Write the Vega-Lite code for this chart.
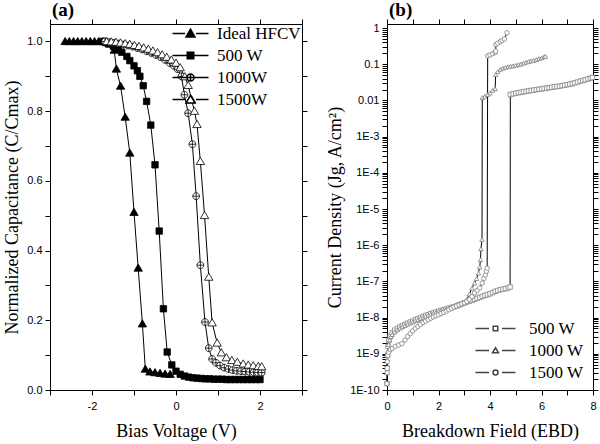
{
  "$schema": "https://vega.github.io/schema/vega-lite/v6.json",
  "background": "white",
  "padding": {"left": 3, "top": 0, "right": 0, "bottom": 0},
  "spacing": 18,
  "resolve": {"scale": {"shape": "independent", "fill": "independent"}, "legend": {"shape": "independent", "fill": "independent"}},
  "config": {
    "view": {"stroke": "black", "strokeWidth": 1},
    "axis": {"labelFont": "Liberation Sans", "labelFontSize": 11, "labelColor": "black", "titleFont": "Liberation Serif", "titleFontSize": 18, "titleFontWeight": "normal", "titleColor": "black", "tickColor": "black", "tickSize": 5, "domain": false, "grid": false, "labelPadding": 3, "titlePadding": 5, "labelFlush": false},
    "axisBottom": {"labelPadding": 5, "titlePadding": 11},
    "legend": {"title": null, "labelFont": "Liberation Serif", "labelFontSize": 17, "labelColor": "black", "symbolSize": 100, "padding": 0, "rowPadding": 4}
  },
  "hconcat": [
    {
      "width": 252,
      "height": 366,
      "title": {"text": "(a)", "anchor": "start", "frame": "group", "font": "Liberation Serif", "fontSize": 19, "fontWeight": "bold", "color": "black", "offset": -1, "dx": 2},
      "data": {"values": [
        {"s": "Ideal HFCV", "x": -2.64, "y": 1.0}, {"s": "Ideal HFCV", "x": -2.54, "y": 1.0}, {"s": "Ideal HFCV", "x": -2.44, "y": 1.0}, {"s": "Ideal HFCV", "x": -2.34, "y": 1.0}, {"s": "Ideal HFCV", "x": -2.24, "y": 1.0}, {"s": "Ideal HFCV", "x": -2.14, "y": 1.0}, {"s": "Ideal HFCV", "x": -2.04, "y": 1.0}, {"s": "Ideal HFCV", "x": -1.94, "y": 1.0}, {"s": "Ideal HFCV", "x": -1.84, "y": 1.0}, {"s": "Ideal HFCV", "x": -1.74, "y": 1.0}, {"s": "Ideal HFCV", "x": -1.64, "y": 0.998}, {"s": "Ideal HFCV", "x": -1.56, "y": 0.993}, {"s": "Ideal HFCV", "x": -1.47, "y": 0.975}, {"s": "Ideal HFCV", "x": -1.42, "y": 0.921}, {"s": "Ideal HFCV", "x": -1.32, "y": 0.872}, {"s": "Ideal HFCV", "x": -1.21, "y": 0.783}, {"s": "Ideal HFCV", "x": -1.1, "y": 0.68}, {"s": "Ideal HFCV", "x": -1.0, "y": 0.51}, {"s": "Ideal HFCV", "x": -0.9, "y": 0.35}, {"s": "Ideal HFCV", "x": -0.8, "y": 0.19}, {"s": "Ideal HFCV", "x": -0.73, "y": 0.06}, {"s": "Ideal HFCV", "x": -0.62, "y": 0.052}, {"s": "Ideal HFCV", "x": -0.5, "y": 0.05}, {"s": "Ideal HFCV", "x": -0.38, "y": 0.048}, {"s": "Ideal HFCV", "x": -0.26, "y": 0.046}, {"s": "Ideal HFCV", "x": -0.14, "y": 0.045},
        {"s": "500 W", "x": -1.75, "y": 1.0}, {"s": "500 W", "x": -1.68, "y": 0.997}, {"s": "500 W", "x": -1.61, "y": 0.993}, {"s": "500 W", "x": -1.49, "y": 0.986}, {"s": "500 W", "x": -1.37, "y": 0.978}, {"s": "500 W", "x": -1.29, "y": 0.969}, {"s": "500 W", "x": -1.17, "y": 0.957}, {"s": "500 W", "x": -1.1, "y": 0.945}, {"s": "500 W", "x": -1.0, "y": 0.93}, {"s": "500 W", "x": -0.92, "y": 0.916}, {"s": "500 W", "x": -0.86, "y": 0.9}, {"s": "500 W", "x": -0.78, "y": 0.873}, {"s": "500 W", "x": -0.7, "y": 0.828}, {"s": "500 W", "x": -0.6, "y": 0.76}, {"s": "500 W", "x": -0.5, "y": 0.646}, {"s": "500 W", "x": -0.4, "y": 0.456}, {"s": "500 W", "x": -0.3, "y": 0.233}, {"s": "500 W", "x": -0.21, "y": 0.109}, {"s": "500 W", "x": -0.1, "y": 0.072}, {"s": "500 W", "x": 0.0, "y": 0.054}, {"s": "500 W", "x": 0.1, "y": 0.045}, {"s": "500 W", "x": 0.2, "y": 0.04}, {"s": "500 W", "x": 0.3, "y": 0.037}, {"s": "500 W", "x": 0.4, "y": 0.035}, {"s": "500 W", "x": 0.5, "y": 0.034}, {"s": "500 W", "x": 0.6, "y": 0.033}, {"s": "500 W", "x": 0.7, "y": 0.032}, {"s": "500 W", "x": 0.8, "y": 0.032}, {"s": "500 W", "x": 0.9, "y": 0.031}, {"s": "500 W", "x": 1.0, "y": 0.031}, {"s": "500 W", "x": 1.1, "y": 0.031}, {"s": "500 W", "x": 1.2, "y": 0.03}, {"s": "500 W", "x": 1.3, "y": 0.03}, {"s": "500 W", "x": 1.4, "y": 0.03}, {"s": "500 W", "x": 1.5, "y": 0.03}, {"s": "500 W", "x": 1.6, "y": 0.03}, {"s": "500 W", "x": 1.7, "y": 0.03}, {"s": "500 W", "x": 1.8, "y": 0.03}, {"s": "500 W", "x": 1.9, "y": 0.03}, {"s": "500 W", "x": 2.0, "y": 0.03},
        {"s": "1000W", "x": -1.69, "y": 1.0}, {"s": "1000W", "x": -1.58, "y": 0.998}, {"s": "1000W", "x": -1.47, "y": 0.996}, {"s": "1000W", "x": -1.36, "y": 0.994}, {"s": "1000W", "x": -1.25, "y": 0.991}, {"s": "1000W", "x": -1.14, "y": 0.988}, {"s": "1000W", "x": -1.03, "y": 0.985}, {"s": "1000W", "x": -0.92, "y": 0.981}, {"s": "1000W", "x": -0.81, "y": 0.977}, {"s": "1000W", "x": -0.7, "y": 0.972}, {"s": "1000W", "x": -0.59, "y": 0.967}, {"s": "1000W", "x": -0.48, "y": 0.961}, {"s": "1000W", "x": -0.37, "y": 0.955}, {"s": "1000W", "x": -0.26, "y": 0.947}, {"s": "1000W", "x": -0.15, "y": 0.938}, {"s": "1000W", "x": -0.05, "y": 0.93}, {"s": "1000W", "x": 0.04, "y": 0.92}, {"s": "1000W", "x": 0.13, "y": 0.9}, {"s": "1000W", "x": 0.2, "y": 0.847}, {"s": "1000W", "x": 0.29, "y": 0.794}, {"s": "1000W", "x": 0.39, "y": 0.705}, {"s": "1000W", "x": 0.48, "y": 0.556}, {"s": "1000W", "x": 0.58, "y": 0.358}, {"s": "1000W", "x": 0.69, "y": 0.195}, {"s": "1000W", "x": 0.78, "y": 0.12}, {"s": "1000W", "x": 0.86, "y": 0.089}, {"s": "1000W", "x": 0.95, "y": 0.078}, {"s": "1000W", "x": 1.05, "y": 0.07}, {"s": "1000W", "x": 1.15, "y": 0.064}, {"s": "1000W", "x": 1.25, "y": 0.06}, {"s": "1000W", "x": 1.35, "y": 0.057}, {"s": "1000W", "x": 1.45, "y": 0.055}, {"s": "1000W", "x": 1.55, "y": 0.054}, {"s": "1000W", "x": 1.65, "y": 0.053}, {"s": "1000W", "x": 1.75, "y": 0.052}, {"s": "1000W", "x": 1.85, "y": 0.051}, {"s": "1000W", "x": 1.95, "y": 0.05}, {"s": "1000W", "x": 2.04, "y": 0.05},
        {"s": "1500W", "x": -1.65, "y": 1.0}, {"s": "1500W", "x": -1.54, "y": 0.999}, {"s": "1500W", "x": -1.43, "y": 0.998}, {"s": "1500W", "x": -1.32, "y": 0.996}, {"s": "1500W", "x": -1.21, "y": 0.994}, {"s": "1500W", "x": -1.1, "y": 0.992}, {"s": "1500W", "x": -0.99, "y": 0.989}, {"s": "1500W", "x": -0.88, "y": 0.986}, {"s": "1500W", "x": -0.77, "y": 0.982}, {"s": "1500W", "x": -0.66, "y": 0.978}, {"s": "1500W", "x": -0.55, "y": 0.973}, {"s": "1500W", "x": -0.44, "y": 0.968}, {"s": "1500W", "x": -0.33, "y": 0.962}, {"s": "1500W", "x": -0.22, "y": 0.955}, {"s": "1500W", "x": -0.11, "y": 0.947}, {"s": "1500W", "x": 0.0, "y": 0.938}, {"s": "1500W", "x": 0.1, "y": 0.925}, {"s": "1500W", "x": 0.21, "y": 0.899}, {"s": "1500W", "x": 0.29, "y": 0.874}, {"s": "1500W", "x": 0.37, "y": 0.833}, {"s": "1500W", "x": 0.44, "y": 0.8}, {"s": "1500W", "x": 0.5, "y": 0.762}, {"s": "1500W", "x": 0.58, "y": 0.656}, {"s": "1500W", "x": 0.68, "y": 0.501}, {"s": "1500W", "x": 0.78, "y": 0.324}, {"s": "1500W", "x": 0.86, "y": 0.193}, {"s": "1500W", "x": 0.98, "y": 0.135}, {"s": "1500W", "x": 1.08, "y": 0.107}, {"s": "1500W", "x": 1.2, "y": 0.093}, {"s": "1500W", "x": 1.33, "y": 0.085}, {"s": "1500W", "x": 1.46, "y": 0.08}, {"s": "1500W", "x": 1.6, "y": 0.075}, {"s": "1500W", "x": 1.72, "y": 0.072}, {"s": "1500W", "x": 1.84, "y": 0.07}, {"s": "1500W", "x": 1.96, "y": 0.068}, {"s": "1500W", "x": 2.04, "y": 0.067}
      ]},
      "layer": [
        {
          "mark": {"type": "line", "color": "black", "strokeWidth": 1},
          "encoding": {
            "x": {"field": "x", "type": "quantitative", "scale": {"domain": [-3, 3], "nice": false}, "axis": {"orient": "bottom", "title": "Bias Voltage (V)", "values": [-3, -2, -1, 0, 1, 2, 3], "labelExpr": "datum.value % 2 === 0 ? (datum.value < 0 ? '-' + abs(datum.value) : '' + datum.value) : ''", "encode": {"ticks": {"y2": {"condition": {"test": "datum.value % 2 === 0", "value": 5}, "value": 3}}}}},
            "y": {"field": "y", "type": "quantitative", "scale": {"domain": [0, 1.05], "nice": false}, "axis": {"orient": "left", "title": "Normalized Capacitance (C/Cmax)", "values": [0, 0.1, 0.2, 0.3, 0.4, 0.5, 0.6, 0.7, 0.8, 0.9, 1.0], "format": ".1f", "labelExpr": "round(datum.value*10) % 2 === 0 ? datum.label : ''", "encode": {"ticks": {"x2": {"condition": {"test": "round(datum.value*10) % 2 === 0", "value": -5}, "value": -3}}}}},
            "detail": {"field": "s"}
          }
        },
        {
          "mark": {"type": "point", "size": 64, "stroke": "black", "strokeWidth": 0.8, "opacity": 1},
          "encoding": {
            "x": {"field": "x", "type": "quantitative", "scale": {"domain": [-3, 3], "nice": false}, "axis": {"orient": "top", "title": null, "labels": false, "values": [-3, -2, -1, 0, 1, 2, 3], "encode": {"ticks": {"y2": {"condition": {"test": "datum.value % 2 === 0", "value": 5}, "value": 3}}}}},
            "y": {"field": "y", "type": "quantitative", "scale": {"domain": [0, 1.05], "nice": false}, "axis": {"orient": "right", "title": null, "labels": false, "values": [0, 0.1, 0.2, 0.3, 0.4, 0.5, 0.6, 0.7, 0.8, 0.9, 1.0], "encode": {"ticks": {"x2": {"condition": {"test": "round(datum.value*10) % 2 === 0", "value": -5}, "value": -3}}}}},
            "shape": {"field": "s", "type": "nominal", "scale": {"domain": ["Ideal HFCV", "500 W", "1000W", "1500W"], "range": ["M0,-1L1.05,0.8L-1.05,0.8Z", "M-0.8,-0.8H0.8V0.8H-0.8Z", "M0.85,0A0.85,0.85,0,1,1,-0.85,0A0.85,0.85,0,1,1,0.85,0ZM-0.85,0H0.85M0,-0.85V0.85", "M0,-1L1.05,0.8L-1.05,0.8Z"]}, "legend": null},
            "fill": {"field": "s", "type": "nominal", "scale": {"domain": ["Ideal HFCV", "500 W", "1000W", "1500W"], "range": ["black", "black", "white", "white"]}, "legend": null}
          }
        },
        {
          "transform": [{"filter": "datum.x > 100"}],
          "mark": {"type": "point", "size": 100, "stroke": "black", "strokeWidth": 1, "opacity": 1},
          "encoding": {
            "x": {"field": "x", "type": "quantitative", "scale": {"domain": [-3, 3], "nice": false}, "axis": null},
            "y": {"field": "y", "type": "quantitative", "scale": {"domain": [0, 1.05], "nice": false}, "axis": null},
            "shape": {"field": "s", "type": "nominal", "scale": {"domain": ["Ideal HFCV", "500 W", "1000W", "1500W"], "range": ["M-3.6,0H-1.1M1.1,0H3.6M0,-0.85L0.9,0.7L-0.9,0.7Z", "M-3.6,0H-0.7M0.7,0H3.6M-0.65,-0.65H0.65V0.65H-0.65Z", "M-3.6,0H-0.7M0.7,0H3.6M0.7,0A0.7,0.7,0,1,1,-0.7,0A0.7,0.7,0,1,1,0.7,0ZM-0.7,0H0.7M0,-0.7V0.7", "M-3.6,0H-1.1M1.1,0H3.6M0,-0.85L0.9,0.7L-0.9,0.7Z"]},
              "legend": {"orient": "top-right", "offset": 1, "labelOffset": 18}},
            "fill": {"field": "s", "type": "nominal", "scale": {"domain": ["Ideal HFCV", "500 W", "1000W", "1500W"], "range": ["black", "black", "white", "white"]}, "legend": null}
          }
        }
      ],
      "resolve": {"axis": {"x": "independent", "y": "independent"}, "scale": {"shape": "independent", "fill": "independent"}, "legend": {"shape": "independent", "fill": "independent"}}
    },
    {
      "width": 206,
      "height": 366,
      "title": {"text": "(b)", "anchor": "start", "frame": "group", "font": "Liberation Serif", "fontSize": 19, "fontWeight": "bold", "color": "black", "offset": -1, "dx": 2},
      "data": {"values": [
        {"s": "500 W", "x": 0, "y": 1.5e-10}, {"s": "500 W", "x": 0.01, "y": 4e-10}, {"s": "500 W", "x": 0.02, "y": 9e-10}, {"s": "500 W", "x": 0.04, "y": 1.6e-9}, {"s": "500 W", "x": 0.07, "y": 2.3e-9}, {"s": "500 W", "x": 0.12, "y": 3e-9}, {"s": "500 W", "x": 0.2, "y": 3.8e-9}, {"s": "500 W", "x": 0.3, "y": 4.5e-9}, {"s": "500 W", "x": 0.4, "y": 5e-9}, {"s": "500 W", "x": 0.5, "y": 5.5e-9}, {"s": "500 W", "x": 0.6, "y": 6e-9}, {"s": "500 W", "x": 0.7, "y": 6.5e-9}, {"s": "500 W", "x": 0.8, "y": 7e-9}, {"s": "500 W", "x": 0.9, "y": 7.5e-9}, {"s": "500 W", "x": 1.0, "y": 8e-9}, {"s": "500 W", "x": 1.1, "y": 8.7e-9}, {"s": "500 W", "x": 1.2, "y": 9.3e-9}, {"s": "500 W", "x": 1.3, "y": 1e-8}, {"s": "500 W", "x": 1.4, "y": 1.07e-8}, {"s": "500 W", "x": 1.5, "y": 1.14e-8}, {"s": "500 W", "x": 1.6, "y": 1.2e-8}, {"s": "500 W", "x": 1.7, "y": 1.28e-8}, {"s": "500 W", "x": 1.8, "y": 1.35e-8}, {"s": "500 W", "x": 1.9, "y": 1.42e-8}, {"s": "500 W", "x": 2.0, "y": 1.5e-8}, {"s": "500 W", "x": 2.1, "y": 1.57e-8}, {"s": "500 W", "x": 2.2, "y": 1.65e-8}, {"s": "500 W", "x": 2.3, "y": 1.73e-8}, {"s": "500 W", "x": 2.4, "y": 1.82e-8}, {"s": "500 W", "x": 2.5, "y": 1.9e-8}, {"s": "500 W", "x": 2.6, "y": 2e-8}, {"s": "500 W", "x": 2.7, "y": 2.1e-8}, {"s": "500 W", "x": 2.8, "y": 2.25e-8}, {"s": "500 W", "x": 2.9, "y": 2.4e-8}, {"s": "500 W", "x": 3.0, "y": 2.55e-8}, {"s": "500 W", "x": 3.1, "y": 2.7e-8}, {"s": "500 W", "x": 3.2, "y": 2.85e-8}, {"s": "500 W", "x": 3.3, "y": 3e-8}, {"s": "500 W", "x": 3.4, "y": 3.2e-8}, {"s": "500 W", "x": 3.5, "y": 3.4e-8}, {"s": "500 W", "x": 3.6, "y": 3.6e-8}, {"s": "500 W", "x": 3.7, "y": 3.85e-8}, {"s": "500 W", "x": 3.8, "y": 4.1e-8}, {"s": "500 W", "x": 3.9, "y": 4.3e-8}, {"s": "500 W", "x": 4.0, "y": 4.55e-8}, {"s": "500 W", "x": 4.1, "y": 4.9e-8}, {"s": "500 W", "x": 4.2, "y": 5.3e-8}, {"s": "500 W", "x": 4.3, "y": 5.6e-8}, {"s": "500 W", "x": 4.4, "y": 5.9e-8}, {"s": "500 W", "x": 4.5, "y": 6.1e-8}, {"s": "500 W", "x": 4.6, "y": 6.3e-8}, {"s": "500 W", "x": 4.7, "y": 6.6e-8}, {"s": "500 W", "x": 4.78, "y": 7e-8},
        {"s": "500 W", "x": 4.79, "y": 0.0145}, {"s": "500 W", "x": 4.9, "y": 0.0152}, {"s": "500 W", "x": 5.0, "y": 0.0158}, {"s": "500 W", "x": 5.1, "y": 0.0163}, {"s": "500 W", "x": 5.2, "y": 0.0168}, {"s": "500 W", "x": 5.3, "y": 0.0173}, {"s": "500 W", "x": 5.4, "y": 0.0178}, {"s": "500 W", "x": 5.5, "y": 0.0183}, {"s": "500 W", "x": 5.6, "y": 0.0188}, {"s": "500 W", "x": 5.7, "y": 0.0193}, {"s": "500 W", "x": 5.8, "y": 0.0198}, {"s": "500 W", "x": 5.9, "y": 0.0203}, {"s": "500 W", "x": 6.0, "y": 0.0208}, {"s": "500 W", "x": 6.1, "y": 0.0213}, {"s": "500 W", "x": 6.2, "y": 0.0218}, {"s": "500 W", "x": 6.3, "y": 0.0224}, {"s": "500 W", "x": 6.4, "y": 0.023}, {"s": "500 W", "x": 6.5, "y": 0.0236}, {"s": "500 W", "x": 6.6, "y": 0.0242}, {"s": "500 W", "x": 6.7, "y": 0.0248}, {"s": "500 W", "x": 6.8, "y": 0.0255}, {"s": "500 W", "x": 6.9, "y": 0.0263}, {"s": "500 W", "x": 7.0, "y": 0.0272}, {"s": "500 W", "x": 7.1, "y": 0.0282}, {"s": "500 W", "x": 7.2, "y": 0.0293}, {"s": "500 W", "x": 7.3, "y": 0.0305}, {"s": "500 W", "x": 7.4, "y": 0.0322}, {"s": "500 W", "x": 7.5, "y": 0.034}, {"s": "500 W", "x": 7.6, "y": 0.0355}, {"s": "500 W", "x": 7.7, "y": 0.037}, {"s": "500 W", "x": 7.8, "y": 0.039}, {"s": "500 W", "x": 7.9, "y": 0.041}, {"s": "500 W", "x": 7.98, "y": 0.043},
        {"s": "1000 W", "x": 0, "y": 3e-10}, {"s": "1000 W", "x": 0.01, "y": 7e-10}, {"s": "1000 W", "x": 0.03, "y": 1.2e-9}, {"s": "1000 W", "x": 0.06, "y": 1.8e-9}, {"s": "1000 W", "x": 0.1, "y": 2.4e-9}, {"s": "1000 W", "x": 0.15, "y": 3e-9}, {"s": "1000 W", "x": 0.2, "y": 3.4e-9}, {"s": "1000 W", "x": 0.3, "y": 4e-9}, {"s": "1000 W", "x": 0.4, "y": 4.6e-9}, {"s": "1000 W", "x": 0.5, "y": 5.1e-9}, {"s": "1000 W", "x": 0.6, "y": 5.6e-9}, {"s": "1000 W", "x": 0.7, "y": 6.1e-9}, {"s": "1000 W", "x": 0.8, "y": 6.6e-9}, {"s": "1000 W", "x": 0.9, "y": 7.1e-9}, {"s": "1000 W", "x": 1.0, "y": 7.6e-9}, {"s": "1000 W", "x": 1.1, "y": 8.2e-9}, {"s": "1000 W", "x": 1.2, "y": 8.8e-9}, {"s": "1000 W", "x": 1.3, "y": 9.5e-9}, {"s": "1000 W", "x": 1.4, "y": 1.02e-8}, {"s": "1000 W", "x": 1.5, "y": 1.09e-8}, {"s": "1000 W", "x": 1.6, "y": 1.16e-8}, {"s": "1000 W", "x": 1.7, "y": 1.23e-8}, {"s": "1000 W", "x": 1.8, "y": 1.3e-8}, {"s": "1000 W", "x": 1.9, "y": 1.38e-8}, {"s": "1000 W", "x": 2.0, "y": 1.45e-8}, {"s": "1000 W", "x": 2.1, "y": 1.53e-8}, {"s": "1000 W", "x": 2.2, "y": 1.62e-8}, {"s": "1000 W", "x": 2.3, "y": 1.7e-8}, {"s": "1000 W", "x": 2.4, "y": 1.8e-8}, {"s": "1000 W", "x": 2.5, "y": 1.9e-8}, {"s": "1000 W", "x": 2.6, "y": 2e-8}, {"s": "1000 W", "x": 2.7, "y": 2.12e-8}, {"s": "1000 W", "x": 2.8, "y": 2.25e-8}, {"s": "1000 W", "x": 2.9, "y": 2.4e-8}, {"s": "1000 W", "x": 3.0, "y": 2.6e-8}, {"s": "1000 W", "x": 3.1, "y": 3.2e-8}, {"s": "1000 W", "x": 3.2, "y": 4.5e-8}, {"s": "1000 W", "x": 3.3, "y": 6.5e-8}, {"s": "1000 W", "x": 3.4, "y": 9e-8}, {"s": "1000 W", "x": 3.48, "y": 1.2e-7}, {"s": "1000 W", "x": 3.55, "y": 1.7e-7}, {"s": "1000 W", "x": 3.6, "y": 2.5e-7}, {"s": "1000 W", "x": 3.63, "y": 4e-7}, {"s": "1000 W", "x": 3.65, "y": 8e-7}, {"s": "1000 W", "x": 3.69, "y": 1.45e-6},
        {"s": "1000 W", "x": 3.7, "y": 0.012}, {"s": "1000 W", "x": 3.8, "y": 0.013}, {"s": "1000 W", "x": 3.9, "y": 0.0145}, {"s": "1000 W", "x": 4.0, "y": 0.016}, {"s": "1000 W", "x": 4.1, "y": 0.019}, {"s": "1000 W", "x": 4.2, "y": 0.021}, {"s": "1000 W", "x": 4.22, "y": 0.052}, {"s": "1000 W", "x": 4.3, "y": 0.062}, {"s": "1000 W", "x": 4.4, "y": 0.072}, {"s": "1000 W", "x": 4.5, "y": 0.078}, {"s": "1000 W", "x": 4.6, "y": 0.082}, {"s": "1000 W", "x": 4.7, "y": 0.085}, {"s": "1000 W", "x": 4.8, "y": 0.088}, {"s": "1000 W", "x": 4.9, "y": 0.09}, {"s": "1000 W", "x": 5.0, "y": 0.093}, {"s": "1000 W", "x": 5.1, "y": 0.097}, {"s": "1000 W", "x": 5.2, "y": 0.101}, {"s": "1000 W", "x": 5.3, "y": 0.107}, {"s": "1000 W", "x": 5.4, "y": 0.113}, {"s": "1000 W", "x": 5.5, "y": 0.119}, {"s": "1000 W", "x": 5.6, "y": 0.124}, {"s": "1000 W", "x": 5.7, "y": 0.128}, {"s": "1000 W", "x": 5.8, "y": 0.134}, {"s": "1000 W", "x": 5.9, "y": 0.142}, {"s": "1000 W", "x": 6.0, "y": 0.15}, {"s": "1000 W", "x": 6.1, "y": 0.16}, {"s": "1000 W", "x": 6.15, "y": 0.165},
        {"s": "1500 W", "x": 0, "y": 1.5e-10}, {"s": "1500 W", "x": 0.005, "y": 3e-10}, {"s": "1500 W", "x": 0.01, "y": 6e-10}, {"s": "1500 W", "x": 0.03, "y": 9e-10}, {"s": "1500 W", "x": 0.07, "y": 1.1e-9}, {"s": "1500 W", "x": 0.13, "y": 1.3e-9}, {"s": "1500 W", "x": 0.2, "y": 1.4e-9}, {"s": "1500 W", "x": 0.32, "y": 1.6e-9}, {"s": "1500 W", "x": 0.45, "y": 1.75e-9}, {"s": "1500 W", "x": 0.58, "y": 1.9e-9}, {"s": "1500 W", "x": 0.7, "y": 2.4e-9}, {"s": "1500 W", "x": 0.8, "y": 3e-9}, {"s": "1500 W", "x": 0.9, "y": 3.6e-9}, {"s": "1500 W", "x": 1.0, "y": 4.3e-9}, {"s": "1500 W", "x": 1.1, "y": 5e-9}, {"s": "1500 W", "x": 1.2, "y": 5.7e-9}, {"s": "1500 W", "x": 1.3, "y": 6.5e-9}, {"s": "1500 W", "x": 1.4, "y": 7.3e-9}, {"s": "1500 W", "x": 1.5, "y": 8e-9}, {"s": "1500 W", "x": 1.6, "y": 8.8e-9}, {"s": "1500 W", "x": 1.7, "y": 9.6e-9}, {"s": "1500 W", "x": 1.8, "y": 1.04e-8}, {"s": "1500 W", "x": 1.9, "y": 1.12e-8}, {"s": "1500 W", "x": 2.0, "y": 1.2e-8}, {"s": "1500 W", "x": 2.1, "y": 1.3e-8}, {"s": "1500 W", "x": 2.2, "y": 1.4e-8}, {"s": "1500 W", "x": 2.3, "y": 1.5e-8}, {"s": "1500 W", "x": 2.4, "y": 1.65e-8}, {"s": "1500 W", "x": 2.5, "y": 1.8e-8}, {"s": "1500 W", "x": 2.6, "y": 1.95e-8}, {"s": "1500 W", "x": 2.7, "y": 2.1e-8}, {"s": "1500 W", "x": 2.8, "y": 2.25e-8}, {"s": "1500 W", "x": 2.9, "y": 2.4e-8}, {"s": "1500 W", "x": 3.0, "y": 2.55e-8}, {"s": "1500 W", "x": 3.1, "y": 2.8e-8}, {"s": "1500 W", "x": 3.2, "y": 3.2e-8}, {"s": "1500 W", "x": 3.3, "y": 3.8e-8}, {"s": "1500 W", "x": 3.4, "y": 4.8e-8}, {"s": "1500 W", "x": 3.5, "y": 5.6e-8}, {"s": "1500 W", "x": 3.6, "y": 6.6e-8}, {"s": "1500 W", "x": 3.7, "y": 9e-8}, {"s": "1500 W", "x": 3.76, "y": 1.2e-7}, {"s": "1500 W", "x": 3.82, "y": 1.5e-7}, {"s": "1500 W", "x": 3.86, "y": 1.9e-7}, {"s": "1500 W", "x": 3.89, "y": 2.3e-7},
        {"s": "1500 W", "x": 3.91, "y": 0.17}, {"s": "1500 W", "x": 4.0, "y": 0.18}, {"s": "1500 W", "x": 4.1, "y": 0.195}, {"s": "1500 W", "x": 4.2, "y": 0.21}, {"s": "1500 W", "x": 4.22, "y": 0.23}, {"s": "1500 W", "x": 4.23, "y": 0.35}, {"s": "1500 W", "x": 4.3, "y": 0.38}, {"s": "1500 W", "x": 4.4, "y": 0.42}, {"s": "1500 W", "x": 4.47, "y": 0.45}, {"s": "1500 W", "x": 4.56, "y": 0.5}, {"s": "1500 W", "x": 4.66, "y": 0.74}
      ]},
      "layer": [
        {
          "mark": {"type": "line", "color": "black", "strokeWidth": 1},
          "encoding": {
            "x": {"field": "x", "type": "quantitative", "scale": {"domain": [0, 8], "nice": false}, "axis": {"orient": "bottom", "title": "Breakdown Field (EBD)", "values": [0, 1, 2, 3, 4, 5, 6, 7, 8], "labelExpr": "datum.value % 2 === 0 ? '' + datum.value : ''", "encode": {"ticks": {"y2": {"condition": {"test": "datum.value % 2 === 0", "value": 5}, "value": 3}}}}},
            "y": {"field": "y", "type": "quantitative", "scale": {"type": "log", "domain": [1e-10, 1.29], "nice": false}, "axis": {"orient": "left", "title": "Current Density (Jg, A/cm²)", "values": [1e-10, 2e-10, 3e-10, 4e-10, 5e-10, 6e-10, 7e-10, 8e-10, 9e-10, 1e-9, 2e-9, 3e-9, 4e-9, 5e-9, 6e-9, 7e-9, 8e-9, 9e-9, 1e-8, 2e-8, 3e-8, 4e-8, 5e-8, 6e-8, 7e-8, 8e-8, 9e-8, 1e-7, 2e-7, 3e-7, 4e-7, 5e-7, 6e-7, 7e-7, 8e-7, 9e-7, 1e-6, 2e-6, 3e-6, 4e-6, 5e-6, 6e-6, 7e-6, 8e-6, 9e-6, 1e-5, 2e-5, 3e-5, 4e-5, 5e-5, 6e-5, 7e-5, 8e-5, 9e-5, 1e-4, 2e-4, 3e-4, 4e-4, 5e-4, 6e-4, 7e-4, 8e-4, 9e-4, 1e-3, 2e-3, 3e-3, 4e-3, 5e-3, 6e-3, 7e-3, 8e-3, 9e-3, 0.01, 0.02, 0.03, 0.04, 0.05, 0.06, 0.07, 0.08, 0.09, 0.1, 0.2, 0.3, 0.4, 0.5, 0.6, 0.7, 0.8, 0.9, 1],
              "labelExpr": "abs(log(datum.value)/LN10 - round(log(datum.value)/LN10)) < 0.01 ? (round(log(datum.value)/LN10) === 0 ? '1' : round(log(datum.value)/LN10) === -1 ? '0.1' : round(log(datum.value)/LN10) === -2 ? '0.01' : '1E' + round(log(datum.value)/LN10)) : ''",
              "encode": {"ticks": {"x2": {"condition": {"test": "abs(log(datum.value)/LN10 - round(log(datum.value)/LN10)) < 0.01", "value": -5}, "value": -2.5}}}}},
            "detail": {"field": "s"}
          }
        },
        {
          "mark": {"type": "point", "size": 20, "fill": "white", "stroke": "#808080", "strokeWidth": 0.8, "opacity": 1},
          "encoding": {
            "x": {"field": "x", "type": "quantitative", "scale": {"domain": [0, 8], "nice": false}, "axis": {"orient": "top", "title": null, "labels": false, "values": [0, 1, 2, 3, 4, 5, 6, 7, 8], "encode": {"ticks": {"y2": {"condition": {"test": "datum.value % 2 === 0", "value": 5}, "value": 3}}}}},
            "y": {"field": "y", "type": "quantitative", "scale": {"type": "log", "domain": [1e-10, 1.29], "nice": false}, "axis": {"orient": "right", "title": null, "labels": false, "values": [1e-10, 2e-10, 3e-10, 4e-10, 5e-10, 6e-10, 7e-10, 8e-10, 9e-10, 1e-9, 2e-9, 3e-9, 4e-9, 5e-9, 6e-9, 7e-9, 8e-9, 9e-9, 1e-8, 2e-8, 3e-8, 4e-8, 5e-8, 6e-8, 7e-8, 8e-8, 9e-8, 1e-7, 2e-7, 3e-7, 4e-7, 5e-7, 6e-7, 7e-7, 8e-7, 9e-7, 1e-6, 2e-6, 3e-6, 4e-6, 5e-6, 6e-6, 7e-6, 8e-6, 9e-6, 1e-5, 2e-5, 3e-5, 4e-5, 5e-5, 6e-5, 7e-5, 8e-5, 9e-5, 1e-4, 2e-4, 3e-4, 4e-4, 5e-4, 6e-4, 7e-4, 8e-4, 9e-4, 1e-3, 2e-3, 3e-3, 4e-3, 5e-3, 6e-3, 7e-3, 8e-3, 9e-3, 0.01, 0.02, 0.03, 0.04, 0.05, 0.06, 0.07, 0.08, 0.09, 0.1, 0.2, 0.3, 0.4, 0.5, 0.6, 0.7, 0.8, 0.9, 1],
              "encode": {"ticks": {"x2": {"condition": {"test": "abs(log(datum.value)/LN10 - round(log(datum.value)/LN10)) < 0.01", "value": -5}, "value": -2.5}}}}},
            "shape": {"field": "s", "type": "nominal", "scale": {"domain": ["500 W", "1000 W", "1500 W"], "range": ["square", "triangle-up", "circle"]}, "legend": null}
          }
        },
        {
          "transform": [{"filter": "datum.x > 100"}],
          "mark": {"type": "point", "size": 100, "fill": "white", "stroke": "#444444", "strokeWidth": 1, "opacity": 1},
          "encoding": {
            "x": {"field": "x", "type": "quantitative", "scale": {"domain": [0, 8], "nice": false}, "axis": null},
            "y": {"field": "y", "type": "quantitative", "scale": {"type": "log", "domain": [1e-10, 1.29], "nice": false}, "axis": null},
            "shape": {"field": "s", "type": "nominal", "scale": {"domain": ["500 W", "1000 W", "1500 W"], "range": ["M-4,0H-1.3M1.3,0H4M-0.45,-0.45H0.45V0.45H-0.45Z", "M-4,0H-1.3M1.3,0H4M0,-0.55L0.6,0.45H-0.6Z", "M-4,0H-1.3M1.3,0H4M0.5,0A0.5,0.5,0,1,1,-0.5,0A0.5,0.5,0,1,1,0.5,0Z"]},
              "legend": {"orient": "bottom-right", "offset": 9, "labelOffset": 25}}
          }
        }
      ],
      "resolve": {"axis": {"x": "independent", "y": "independent"}, "scale": {"shape": "independent"}, "legend": {"shape": "independent"}}
    }
  ]
}
